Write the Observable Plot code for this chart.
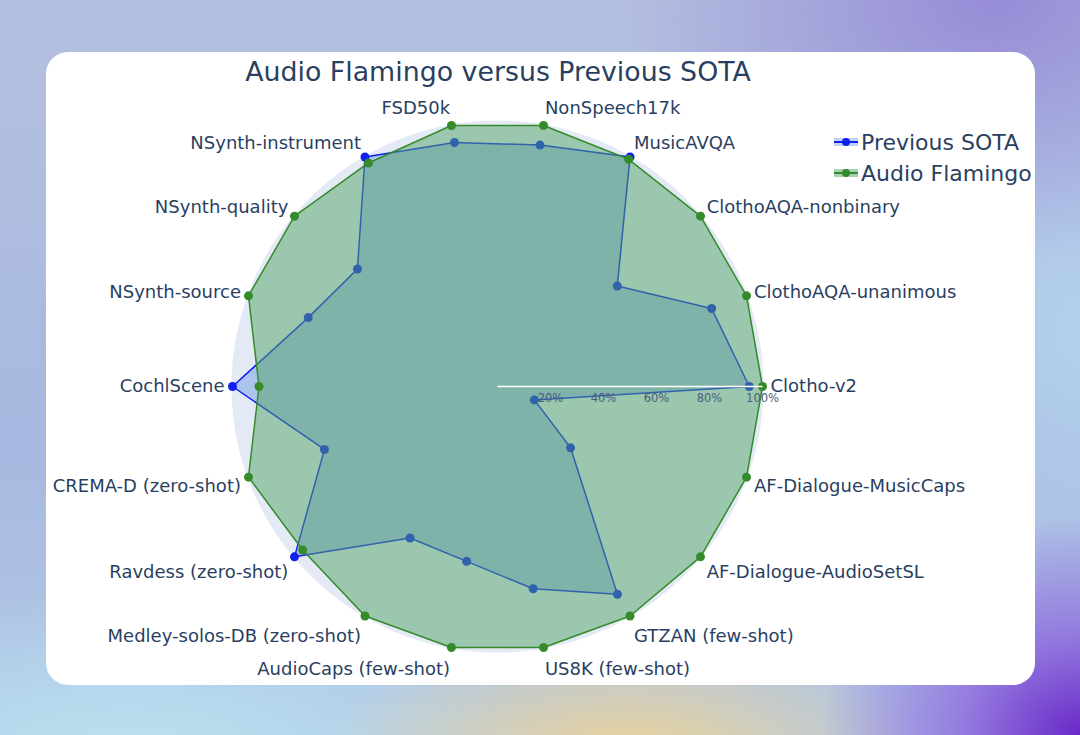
<!DOCTYPE html>
<html>
<head>
<meta charset="utf-8">
<script src="https://cdn.jsdelivr.net/npm/d3@7"></script>
<script src="https://cdn.jsdelivr.net/npm/@observablehq/plot@0.6"></script>
<style>
html, body { margin: 0; padding: 0; width: 1080px; height: 735px; overflow: hidden; }
body {
  position: relative;
  font-family: "DejaVu Sans", Verdana, sans-serif;
  background:
    radial-gradient(ellipse 260px 220px at 100% 100%, rgba(105,40,200,1) 0%, rgba(135,90,220,0.7) 45%, rgba(150,120,225,0) 100%),
    radial-gradient(ellipse 300px 120px at 58% 102%, rgba(236,210,150,0.95) 0%, rgba(236,210,160,0) 100%),
    radial-gradient(ellipse 420px 160px at 12% 102%, rgba(185,225,240,1) 0%, rgba(185,225,240,0) 100%),
    radial-gradient(ellipse 380px 260px at 92% 0%, rgba(150,140,215,1) 0%, rgba(150,140,215,0) 100%),
    radial-gradient(ellipse 200px 300px at 100% 45%, rgba(180,210,238,0.95) 0%, rgba(180,210,238,0) 100%),
    linear-gradient(180deg, #b4c0df 0%, #a7b8e0 60%, #b3c9e6 100%);
}
#card { position: absolute; left: 46px; top: 52px; width: 989px; height: 633px; background: #fff; border-radius: 22px; }
#chart { position: absolute; left: 0; top: 0; }
#title { position: absolute; left: 0; width: 996px; top: 57px; text-align: center; font-size: 26.8px; line-height: 30px; color: #2a3f5f; white-space: nowrap; }
.leg { position: absolute; left: 833px; height: 28px; display: flex; align-items: center; font-size: 22px; color: #2a3f5f; white-space: nowrap; }
.leg svg { margin-right: 2px; }
</style>
</head>
<body>
<div id="card"></div>
<div id="chart"></div>
<div id="title">Audio Flamingo versus Previous SOTA</div>
<div id="legend"></div>
<script>
// ---- data (counter-clockwise from the right) ----
const categories = [
  "Clotho-v2", "ClothoAQA-unanimous", "ClothoAQA-nonbinary", "MusicAVQA",
  "NonSpeech17k", "FSD50k", "NSynth-instrument", "NSynth-quality",
  "NSynth-source", "CochlScene", "CREMA-D (zero-shot)", "Ravdess (zero-shot)",
  "Medley-solos-DB (zero-shot)", "AudioCaps (few-shot)", "US8K (few-shot)",
  "GTZAN (few-shot)", "AF-Dialogue-AudioSetSL", "AF-Dialogue-MusicCaps"
];
const previousSOTA = [95, 86, 59, 100, 92.5, 93.5, 100, 69, 76, 100, 69.5, 100, 66, 67, 77.5, 90.5, 36, 14.8];
const audioFlamingo = [100, 100, 100, 99, 100, 100, 97.4, 100, 100, 90, 100, 96, 100, 100, 100, 100, 100, 100];
const radialTicks = [20, 40, 60, 80, 100];
const seriesNames = ["Previous SOTA", "Audio Flamingo"];

// ---- styling ----
const W = 1080, H = 735, cx = 497, cy = 386, R = 265;
const blue = "#1020f0", green = "#358a2a";
const blueFill = "rgb(30,95,215)", greenFill = "rgb(81,164,104)";
const textColor = "#2a3f5f";

const rad = d => d * Math.PI / 180;
const n = categories.length;
const angleOf = i => i * 360 / n;
const rMax = d3.max(radialTicks) / 100;

const toPts = (vals, name) => vals.map((v, i) => ({
  name, cat: categories[i], v,
  x: (v / 100) * Math.cos(rad(angleOf(i))),
  y: (v / 100) * Math.sin(rad(angleOf(i)))
}));
const sota = toPts(previousSOTA, seriesNames[0]);
const af = toPts(audioFlamingo, seriesNames[1]);

const labels = categories.map((c, i) => {
  const a = rad(angleOf(i)), s = Math.sin(a), co = Math.cos(a);
  const rl = rMax + 8 / R;
  const offPx = s > 0 ? -9.5 * s * s : 14.5 * Math.pow(-s, 0.7); // downward px
  return { cat: c, x: rl * co, y: rl * s - offPx / R, right: co >= 0 };
});

const chart = Plot.plot({
  width: W, height: H,
  margin: 0,
  x: { domain: [-cx / R, (W - cx) / R], range: [0, W], axis: null },
  y: { domain: [-(H - cy) / R, cy / R], range: [H, 0], axis: null },
  style: { background: "transparent", fontFamily: "DejaVu Sans, Verdana, sans-serif", overflow: "visible" },
  marks: [
    Plot.dot([{ x: 0, y: 0 }], { x: "x", y: "y", r: R * rMax + 1, fill: "#E3EAF5", stroke: "none" }),
    Plot.line(sota, { x: "x", y: "y", curve: "linear-closed", fill: blueFill, fillOpacity: 0.28, stroke: "none" }),
    Plot.line(sota, { x: "x", y: "y", curve: "linear-closed", stroke: blue, strokeWidth: 1.5 }),
    Plot.dot(sota, { x: "x", y: "y", r: 4.5, fill: blue, stroke: "none" }),
    Plot.line(af, { x: "x", y: "y", curve: "linear-closed", fill: greenFill, fillOpacity: 0.5, stroke: "none" }),
    Plot.line(af, { x: "x", y: "y", curve: "linear-closed", stroke: green, strokeWidth: 1.5 }),
    Plot.dot(af, { x: "x", y: "y", r: 4.5, fill: green, stroke: "none" }),
    Plot.link([{ x1: 0, y1: 0, x2: rMax, y2: 0 }], { x1: "x1", y1: "y1", x2: "x2", y2: "y2", stroke: "white", strokeWidth: 1.5 }),
    Plot.text(radialTicks, { x: d => d / 100, y: d => -12 / R, text: d => d + "%", fontSize: 11.5, fill: "#4a5d7c", textAnchor: "middle", lineAnchor: "middle" }),
    Plot.text(labels.filter(d => d.right), { x: "x", y: "y", text: "cat", textAnchor: "start", lineAnchor: "middle", fontSize: 18, fill: textColor }),
    Plot.text(labels.filter(d => !d.right), { x: "x", y: "y", text: "cat", textAnchor: "end", lineAnchor: "middle", fontSize: 18, fill: textColor })
  ]
});
document.getElementById("chart").appendChild(chart);

// ---- legend ----
const legend = document.getElementById("legend");
const legendItems = [
  { name: seriesNames[0], stroke: blue, fill: blueFill, op: 0.28, top: 128 },
  { name: seriesNames[1], stroke: green, fill: greenFill, op: 0.5, top: 159 }
];
legendItems.forEach(it => {
  const div = document.createElement("div");
  div.className = "leg";
  div.style.top = it.top + "px";
  div.innerHTML = `<svg width="26" height="28"><rect x="1" y="10" width="24" height="8" fill="${it.fill}" fill-opacity="${it.op}"></rect>` +
    `<line x1="1" x2="25" y1="14" y2="14" stroke="${it.stroke}" stroke-width="2"></line>` +
    `<circle cx="13" cy="14" r="4" fill="${it.stroke}"></circle></svg><span>${it.name}</span>`;
  legend.appendChild(div);
});
</script>
</body>
</html>
